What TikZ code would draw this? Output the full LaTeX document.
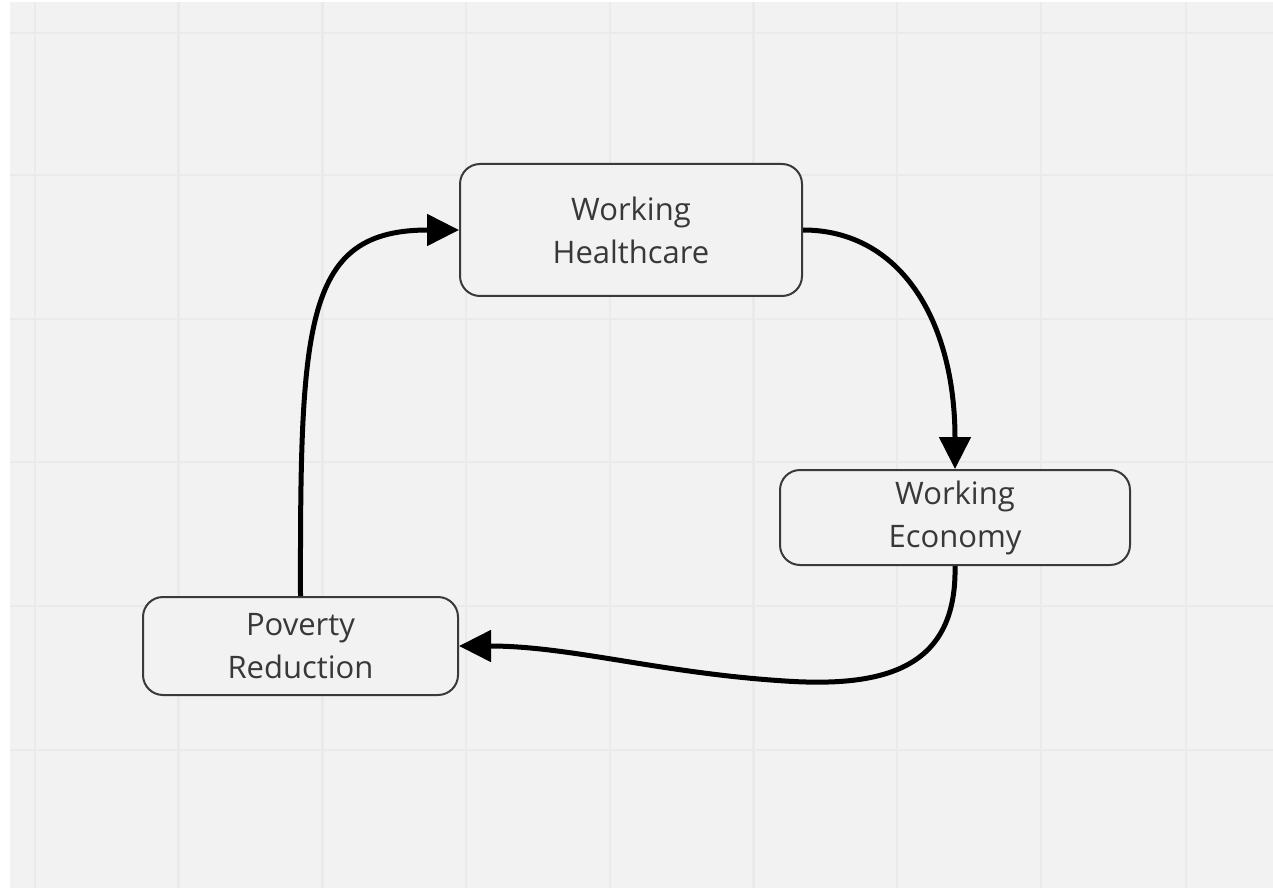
\documentclass[tikz,border=0pt]{standalone}
\usepackage{fontspec}
\setmainfont{Open Sans}
\usetikzlibrary{arrows.meta}
\definecolor{bggray}{HTML}{F2F2F2}
\definecolor{gridgray}{HTML}{EAEAEA}
\definecolor{boxline}{HTML}{3A3A3A}
\definecolor{txtgray}{HTML}{383838}
\tikzset{
  box/.style={draw=boxline, line width=2pt, fill=bggray, rounded corners=20pt,
    inner sep=0pt, align=center, text=txtgray,
    font=\fontsize{31}{43}\selectfont},
  flow/.style={line width=5pt, black, -{Triangle[length=32pt,width=31pt]}},
  gridline/.style={gridgray, line width=2.5pt}
}
\begin{document}
\begin{tikzpicture}[x=1pt,y=-1pt]
\useasboundingbox (0,0) rectangle (1273,890);
\fill[white] (0,0) rectangle (1273,890);
\fill[bggray] (10,2) rectangle (1273,888);
\foreach \gx in {35,178.7,322.4,466,610,753.5,897,1041,1186}
  \draw[gridline] (\gx,2) -- (\gx,888);
\foreach \gy in {33,175,319,462,606,750}
  \draw[gridline] (10,\gy) -- (1273,\gy);

\node[box, minimum width=342pt, minimum height=132pt] (wh) at (631,230) {Working\\Healthcare};
\node[box, minimum width=350pt, minimum height=95pt] (we) at (955,517.5) {Working\\Economy};
\node[box, minimum width=315pt, minimum height=98pt] (pr) at (300.5,646) {Poverty\\Reduction};

\draw[flow] (pr.north) .. controls (300,320) and (305,230) .. (wh.west);
\draw[flow] (wh.east) .. controls (900,230) and (955,320) .. (we.north);
\draw[flow] (we.south) .. controls (957,665) and (890,688) .. (785,681)
  .. controls (660,673) and (570,646) .. (pr.east);
\end{tikzpicture}
\end{document}
